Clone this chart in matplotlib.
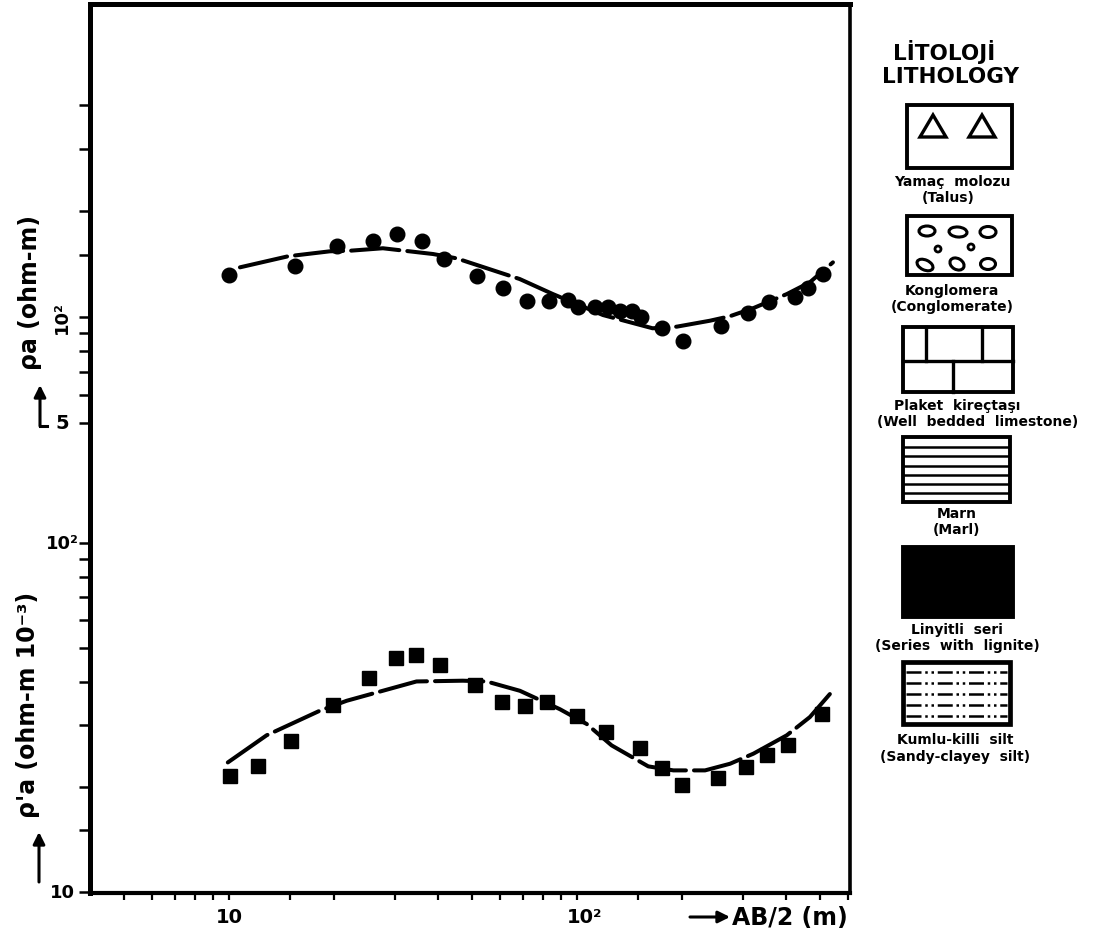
import matplotlib
matplotlib.use("Agg")
import matplotlib.pyplot as plt
from matplotlib.patches import Rectangle, Ellipse, Polygon, Circle
from matplotlib.ticker import FixedLocator, NullFormatter
from matplotlib import transforms

# ---------------- data ----------------
ab_top = [10, 15.5, 20.5, 26, 30.5, 36, 41.5, 51.5, 61.5, 72, 83, 94, 101, 113,
          123, 133, 144, 153, 176, 202, 259, 311, 357, 423, 462, 511]
rho_top = [131.6, 139.8, 158.8, 164.7, 172.1, 164.1, 146.1, 131.0, 120.6, 111.2,
           111.2, 111.8, 107.0, 107.0, 107.0, 104.2, 104.2, 99.8, 92.9, 85.6,
           94.5, 102.7, 110.5, 113.8, 120.6, 132.5]

curve_top_x = [10.76, 14.8, 19.5, 22.3, 27.7, 38.6, 45.1, 68.5, 85.3, 118.8,
               165, 193.8, 241, 275, 320.6, 401, 467, 544]
curve_top_y = [138.4, 148.8, 153.7, 154.3, 156.8, 151, 146.8, 128.2, 116.2,
               101.3, 92.9, 93.9, 97.6, 100.5, 105.9, 116.2, 125.5, 143]

ab_bot = [10.1, 12.1, 15.1, 19.9, 25.2, 30.3, 34.5, 40.5, 50.9, 61, 70.9, 81.9,
          99.8, 121, 152, 176, 201, 255, 306, 352, 405, 505]
rho_bot = [21.5, 23.0, 27.1, 34.3, 41.0, 46.8, 47.6, 44.7, 39.2, 35.0, 34.2,
           35.0, 31.9, 28.8, 25.8, 22.6, 20.3, 21.2, 22.8, 24.7, 26.4, 32.4]

curve_bot_x = [9.93, 12.83, 18.3, 21.8, 34.6, 47, 55, 68.6, 89.3, 106.6, 125.8,
               160.3, 189.3, 233.4, 275.4, 321.4, 400.6, 467, 533]
curve_bot_y = [23.5, 28.1, 33.1, 35.3, 40.1, 40.3, 40.1, 37.7, 33.4, 30.3, 26.3,
               22.9, 22.3, 22.3, 23.3, 24.9, 28.1, 31.7, 36.9]

x_major = [10, 100]
x_major_labels = ["10", "10²"]
x_minor = [5, 6, 7, 8, 9, 15, 20, 30, 40, 50, 60, 70, 80, 90,
           150, 200, 300, 400, 500, 600]
ybot_major = [10, 100]
ybot_labels = ["10", "10²"]
ybot_minor = [15, 20, 30, 40, 50, 60, 70, 80, 90]
ytop_major = [50, 100]
ytop_labels = ["5", "10²"]
ytop_minor = [60, 70, 80, 90, 150, 200, 300, 400]

litho_title = ["LİTOLOJİ", "LITHOLOGY"]
litho_labels = [("Yamaç  molozu", "(Talus)"),
                ("Konglomera", "(Conglomerate)"),
                ("Plaket  kireçtaşı", "(Well  bedded  limestone)"),
                ("Marn", "(Marl)"),
                ("Linyitli  seri", "(Series  with  lignite)"),
                ("Kumlu-killi  silt", "(Sandy-clayey  silt)")]

# ---------------- figure ----------------
plt.rcParams['font.family'] = ['DejaVu Sans']
plt.rcParams['font.weight'] = 'bold'

W, H = 1101, 945
fig = plt.figure(figsize=(W / 100, H / 100), dpi=100)
L, R, T, B = 90, 850, 5, 894
rect = [L / W, (H - B) / H, (R - L) / W, (B - T) / H]

ax_b = fig.add_axes(rect)
ax_t = fig.add_axes(rect, frameon=False)
ax_t.patch.set_alpha(0)

for ax in (ax_b, ax_t):
    ax.set_xscale('log')
    ax.set_yscale('log')
    ax.set_xlim(3.99, 609)

ax_b.set_ylim(9.93, 3503)
ax_t.set_ylim(2.31, 775)

for side, lw in (('left', 3.6), ('bottom', 3.0), ('top', 3.6), ('right', 2.6)):
    ax_b.spines[side].set_linewidth(lw)

# x ticks
ax_b.xaxis.set_major_locator(FixedLocator(x_major))
ax_b.xaxis.set_minor_locator(FixedLocator(x_minor))
ax_b.xaxis.set_major_formatter(NullFormatter())
ax_b.xaxis.set_minor_formatter(NullFormatter())
ax_b.tick_params(axis='x', which='both', direction='out', length=5, width=1.6)

# y ticks (bottom plot)
ax_b.yaxis.set_major_locator(FixedLocator(ybot_major))
ax_b.yaxis.set_minor_locator(FixedLocator(ybot_minor))
ax_b.yaxis.set_major_formatter(NullFormatter())
ax_b.yaxis.set_minor_formatter(NullFormatter())
ax_b.tick_params(axis='y', which='both', direction='out', length=8, width=1.8)

# y ticks (top plot)
ax_t.xaxis.set_visible(False)
ax_t.yaxis.set_major_locator(FixedLocator(ytop_major))
ax_t.yaxis.set_minor_locator(FixedLocator(ytop_minor))
ax_t.yaxis.set_major_formatter(NullFormatter())
ax_t.yaxis.set_minor_formatter(NullFormatter())
ax_t.tick_params(axis='y', which='both', direction='out', length=8, width=1.8)

# data
dash = (12, 2)
ax_b.plot(curve_bot_x, curve_bot_y, color='black', lw=2.9, dashes=dash,
          dash_capstyle='round')
ax_b.plot(ab_bot, rho_bot, 's', color='black', ms=10, mec='black')
ax_t.plot(curve_top_x, curve_top_y, color='black', lw=2.9, dashes=dash,
          dash_capstyle='round')
ax_t.plot(ab_top, rho_top, 'o', color='black', ms=10.5, mec='black')

# tick labels
tb = transforms.blended_transform_factory(ax_b.transData, ax_b.transAxes)
yfrac = (B - 918) / (B - T)
x_offsets = [transforms.ScaledTranslation(0, 0, fig.dpi_scale_trans),
             transforms.ScaledTranslation(0.08, 0, fig.dpi_scale_trans)]
for v, s, off in zip(x_major, x_major_labels, x_offsets):
    ax_b.text(v, yfrac, s, transform=tb + off, ha='center',
              va='center', fontsize=14, fontweight='bold')

xb = transforms.blended_transform_factory(ax_b.transAxes, ax_b.transData)
xfrac = (62 - L) / (R - L)
for v, s in zip(ybot_major, ybot_labels):
    ax_b.text(xfrac, v, s, transform=xb, ha='center', va='center',
              fontsize=13, fontweight='bold')
xt = transforms.blended_transform_factory(ax_t.transAxes, ax_t.transData)
ax_t.text(xfrac, ytop_major[0], ytop_labels[0], transform=xt, ha='center',
          va='center', fontsize=14, fontweight='bold')
ax_t.text(xfrac, ytop_major[1], ytop_labels[1], transform=xt, ha='center',
          va='center', fontsize=13, fontweight='bold', rotation=90)

# ---------------- overlay (labels and lithology legend) ----------------
ov = fig.add_axes([0, 0, 1, 1], zorder=10)
ov.set_xlim(0, W)
ov.set_ylim(H, 0)
ov.axis('off')
ov.patch.set_alpha(0)

ov.text(30, 292, "ρa (ohm-m)", rotation=90, ha='center', va='center',
        fontsize=17, fontweight='bold')
ov.text(28, 705, "ρ'a (ohm-m 10⁻³)", rotation=90, ha='center', va='center',
        fontsize=17, fontweight='bold')
ov.text(732, 918, "AB/2 (m)", ha='left', va='center', fontsize=17,
        fontweight='bold')

ap = dict(arrowstyle='-|>,head_length=0.7,head_width=0.35', color='black', lw=2.2,
          shrinkA=0, shrinkB=0)
ov.annotate("", xy=(40, 386), xytext=(40, 427), arrowprops=ap)
ov.plot([40, 47], [427, 427], color='black', lw=2.2)
ov.annotate("", xy=(39, 833), xytext=(39, 883), arrowprops=ap)
ov.annotate("", xy=(730, 918), xytext=(690, 918), arrowprops=ap)

# legend
ov.text(944, 52, litho_title[0], ha='center', va='center', fontsize=15.5,
        fontweight='bold')
ov.text(950, 77, litho_title[1], ha='center', va='center', fontsize=15.5,
        fontweight='bold')

blw = 2.8
fs = 10
# 1 talus
ov.add_patch(Rectangle((907, 106), 105, 63, fill=False, lw=blw, ec='black'))
for cx in (933, 982):
    ov.add_patch(Polygon([(cx, 116), (cx - 13, 138), (cx + 13, 138)],
                         closed=True, fill=False, lw=2.4, ec='black'))
ov.text(952, 182, litho_labels[0][0], ha='center', va='center', fontsize=fs)
ov.text(948, 198, litho_labels[0][1], ha='center', va='center', fontsize=fs)

# 2 conglomerate
ov.add_patch(Rectangle((907, 217), 105, 59, fill=False, lw=blw, ec='black'))
for (cx, cy, w, h, a) in [(927, 232, 16, 10, 0), (958, 233, 18, 10, 5),
                          (988, 233, 16, 11, 0), (925, 266, 17, 10, 25),
                          (957, 265, 15, 11, 30), (988, 265, 15, 11, 0)]:
    ov.add_patch(Ellipse((cx, cy), w, h, angle=a, fill=False, lw=2.2, ec='black'))
for (cx, cy) in [(938, 250), (971, 248)]:
    ov.add_patch(Circle((cx, cy), 3, fill=False, lw=2.0, ec='black'))
ov.text(952, 291, litho_labels[1][0], ha='center', va='center', fontsize=fs)
ov.text(952, 307, litho_labels[1][1], ha='center', va='center', fontsize=fs)

# 3 limestone
ov.add_patch(Rectangle((903, 328), 110, 65, fill=False, lw=blw, ec='black'))
ov.plot([903, 1013], [362, 362], color='black', lw=2.4)
for vx in (926, 982):
    ov.plot([vx, vx], [328, 362], color='black', lw=2.4)
ov.plot([953, 953], [362, 393], color='black', lw=2.4)
ov.text(957, 406, litho_labels[2][0], ha='center', va='center', fontsize=fs)
ov.text(978, 422, litho_labels[2][1], ha='center', va='center', fontsize=fs)

# 4 marl
ov.add_patch(Rectangle((903, 438), 107, 65, fill=False, lw=blw, ec='black'))
for ly in (448, 457, 467, 476, 485, 494):
    ov.plot([904, 1009], [ly, ly], color='black', lw=1.8)
ov.text(957, 514, litho_labels[3][0], ha='center', va='center', fontsize=fs)
ov.text(957, 530, litho_labels[3][1], ha='center', va='center', fontsize=fs)

# 5 lignite
ov.add_patch(Rectangle((903, 548), 110, 70, fill=True, fc='black', ec='black',
                       lw=blw))
ov.text(957, 630, litho_labels[4][0], ha='center', va='center', fontsize=fs)
ov.text(957, 646, litho_labels[4][1], ha='center', va='center', fontsize=fs)

# 6 sandy-clayey silt
ov.add_patch(Rectangle((903, 663), 107, 62, fill=False, lw=blw + 0.6, ec='black'))
for ly in (673, 684, 695, 706, 717):
    ov.plot([906, 1007], [ly, ly], color='black', lw=1.8,
            dashes=(6, 1.5, 1, 1.5, 1, 1.5))
ov.text(955, 740, litho_labels[5][0], ha='center', va='center', fontsize=fs)
ov.text(955, 757, litho_labels[5][1], ha='center', va='center', fontsize=fs)

fig.savefig("out.png", dpi=100, facecolor='white')
